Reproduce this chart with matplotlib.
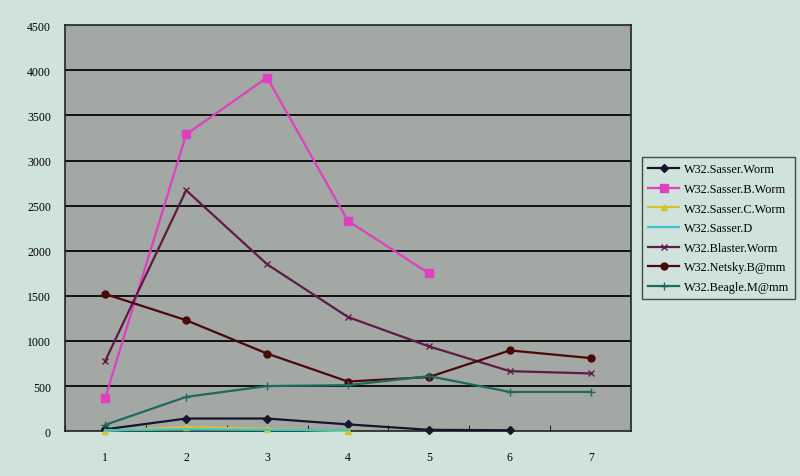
import matplotlib.pyplot as plt

plt.rcParams["font.family"] = ["Liberation Serif", "DejaVu Serif"]

# weeks on the x axis
weeks = [1, 2, 3, 4, 5, 6, 7]

# series values
sasser_worm = [20, 140, 140, 75, 15, 10]
sasser_b_worm = [370, 3290, 3920, 2330, 1750]
sasser_c_worm = [5, 45, 25, 0]
sasser_d = [10, 20, 15, 10]
blaster_worm = [780, 2670, 1850, 1265, 940, 665, 640]
netsky_bmm = [1520, 1230, 860, 550, 600, 895, 810]
beagle_mmm = [70, 380, 500, 510, 610, 435, 435]

labels = ["W32.Sasser.Worm", "W32.Sasser.B.Worm", "W32.Sasser.C.Worm",
          "W32.Sasser.D", "W32.Blaster.Worm", "W32.Netsky.B@mm",
          "W32.Beagle.M@mm"]

bg = "#cfe3dc"
fig = plt.figure(figsize=(8, 4.77), dpi=100, facecolor=bg)
ax = fig.add_axes([0.081, 0.094, 0.708, 0.851])
ax.set_facecolor("#a3a8a4")

# horizontal grid lines
for y in range(500, 4500, 500):
    ax.axhline(y, color="#111111", lw=1.4, zorder=1)

series = [
    (sasser_worm, "#15152e", "D", 4),
    (sasser_b_worm, "#e040c0", "s", 6),
    (sasser_c_worm, "#d4c434", "^", 5),
    (sasser_d, "#3cc8c8", "", 0),
    (blaster_worm, "#5e1a48", "x", 5),
    (netsky_bmm, "#4a0808", "o", 5),
    (beagle_mmm, "#1d6a5e", "+", 6),
]
for (vals, col, mk, ms), lab in zip(series, labels):
    ax.plot(weeks[:len(vals)], vals, color=col, marker=mk, ms=ms, lw=1.6,
            label=lab, zorder=3, clip_on=False)

ax.set_xlim(0.5, 7.5)
ax.set_ylim(0, 4500)
ax.set_yticks(range(0, 4501, 500))
ax.set_xticks(weeks)
ax.set_xticks([x + 0.5 for x in range(0, 7)], minor=True)
ax.tick_params(axis="x", which="major", length=0, pad=14, labelsize=8.5)
ax.tick_params(axis="x", which="minor", direction="in", length=4)
ax.tick_params(axis="y", length=0, pad=10, labelsize=8.5)

for s in ax.spines.values():
    s.set_color("#222222")
    s.set_linewidth(1.2)

leg = fig.legend(loc="upper left", bbox_to_anchor=(0.802, 0.668),
                 fontsize=8.8, frameon=True, fancybox=False,
                 facecolor=bg, edgecolor="#222222", borderpad=0.5,
                 labelspacing=0.62, handlelength=2.6, handletextpad=0.35,
                 borderaxespad=0)
leg.get_frame().set_linewidth(1.0)

fig.savefig("out.png", dpi=100, facecolor=bg)
